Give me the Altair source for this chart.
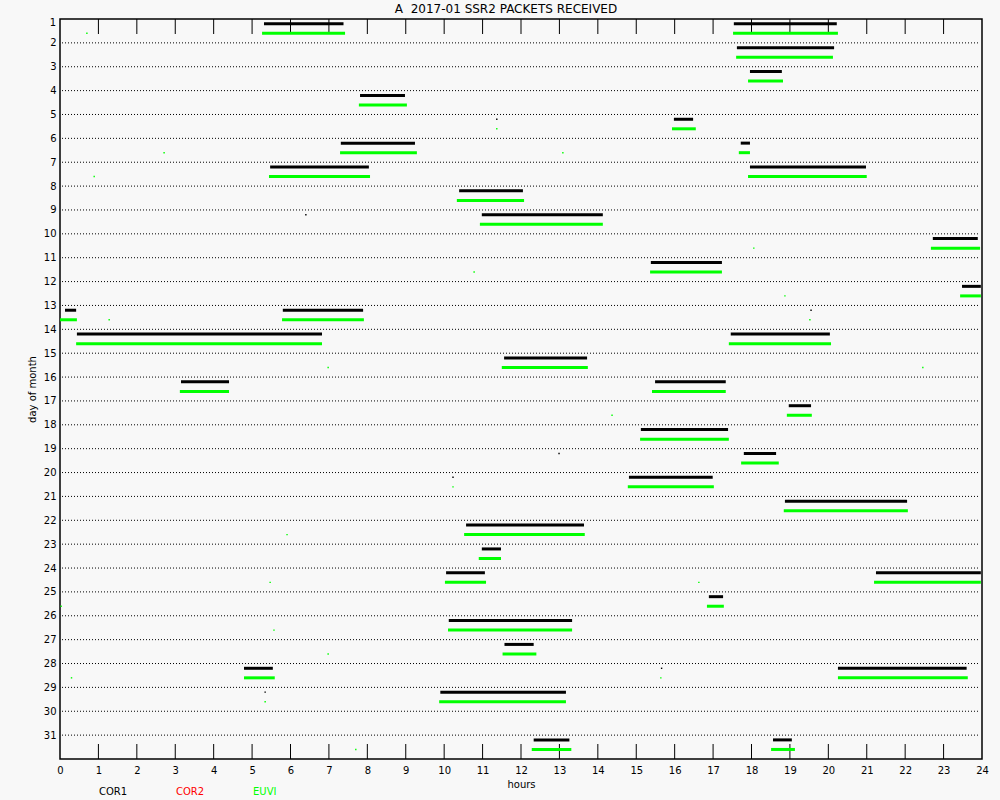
import altair as alt
import pandas as pd

# Packet reception windows per instrument: day of month, start hour, end hour
cor1_day = [1, 1, 2, 3, 4, 5, 6, 6, 7, 7, 8, 9, 10, 11, 12, 13, 13, 14, 14, 15,
            16, 16, 17, 18, 19, 20, 21, 22, 23, 24, 24, 25, 26, 27, 28, 28, 29, 31, 31]
cor1_start = [5.31, 17.54, 17.62, 17.96, 7.81, 15.98, 7.31, 17.72, 5.47, 17.96,
              10.39, 10.98, 22.72, 15.38, 23.48, 0.13, 5.80, 0.44, 17.46, 11.56,
              3.15, 15.49, 18.97, 15.12, 17.80, 14.81, 18.87, 10.57, 10.98, 10.05,
              21.24, 16.89, 10.12, 11.57, 4.79, 20.25, 9.90, 12.33, 18.56]
cor1_end = [7.38, 20.22, 20.15, 18.79, 8.98, 16.48, 9.24, 17.96, 8.04, 20.98,
            12.05, 14.13, 23.89, 17.23, 23.97, 0.42, 7.89, 6.82, 20.04, 13.72,
            4.40, 17.33, 19.55, 17.39, 18.64, 16.99, 22.05, 13.64, 11.48, 11.06,
            23.97, 17.26, 13.33, 12.33, 5.54, 23.60, 13.17, 13.26, 19.05]

euvi_day = cor1_day
euvi_start = [5.26, 17.52, 17.60, 17.91, 7.78, 15.93, 7.29, 17.67, 5.44, 17.91,
              10.33, 10.93, 22.67, 15.36, 23.43, 0.00, 5.78, 0.42, 17.41, 11.50,
              3.12, 15.41, 18.92, 15.10, 17.73, 14.78, 18.84, 10.52, 10.90, 10.02,
              21.19, 16.84, 10.10, 11.52, 4.79, 20.25, 9.87, 12.28, 18.51]
euvi_end = [7.42, 20.25, 20.12, 18.82, 9.03, 16.55, 9.29, 17.96, 8.07, 21.00,
            12.08, 14.13, 23.95, 17.23, 23.97, 0.44, 7.91, 6.82, 20.07, 13.74,
            4.40, 17.33, 19.57, 17.41, 18.71, 17.02, 22.07, 13.66, 11.48, 11.09,
            23.97, 17.28, 13.33, 12.40, 5.59, 23.63, 13.17, 13.31, 19.13]

# Isolated single packets
dot_day = [1, 6, 7, 5, 6, 11, 13, 10, 12, 13, 15, 15, 17, 20, 22, 24, 25, 26,
           24, 27, 28, 29, 28, 31,
           5, 9, 13, 20, 19, 29, 28]
dot_hour = [0.70, 2.71, 0.89, 11.37, 13.09, 10.78, 1.28, 18.06, 18.87, 19.52,
            6.98, 22.46, 14.37, 10.23, 5.91, 5.47, 0.03, 5.57, 16.63, 6.98,
            0.30, 5.34, 15.64, 7.70,
            11.37, 6.40, 19.55, 10.23, 12.99, 5.34, 15.66]
dot_inst = ["EUVI"] * 24 + ["COR1"] * 7

instruments = ["COR1", "COR2", "EUVI"]
inst_colors = ["#000000", "#ff0000", "#00ff00"]
lane_offset = {"COR1": 0.2, "COR2": 0.4, "EUVI": 0.6}

hour_ticks = list(range(0, 25))
day_labels = list(range(1, 32))
title_text = "A\u00a0\u00a02017-01 SSR2 PACKETS RECEIVED"

segs = pd.concat([
    pd.DataFrame({"day": cor1_day, "start": cor1_start, "end": cor1_end, "inst": "COR1"}),
    pd.DataFrame({"day": euvi_day, "start": euvi_start, "end": euvi_end, "inst": "EUVI"}),
], ignore_index=True)
segs["row"] = segs["day"] + segs["inst"].map(lane_offset)

dots = pd.DataFrame({"day": dot_day, "hour": dot_hour, "inst": dot_inst})
dots["row"] = dots["day"] + dots["inst"].map(lane_offset)

FONT = "DejaVu Sans"
W, H = 922, 740

xscale = alt.Scale(domain=[0, 24], nice=False, zero=False)
yscale = alt.Scale(domain=[1, 32], reverse=True, nice=False, zero=False)
cscale = alt.Scale(domain=instruments, range=inst_colors)

x_axis = alt.Axis(values=hour_ticks, ticks=False, domain=False, grid=False,
                  labelPadding=6, labelFontSize=10, labelFont=FONT, labelColor="black",
                  labelOverlap=False, labelFlush=False,
                  title="hours", titleFont=FONT, titleFontSize=10, titleFontWeight="normal",
                  titleColor="black", titlePadding=4)
y_axis = alt.Axis(values=day_labels[1:], ticks=False, domain=False, grid=False,
                  labelPadding=4, labelFontSize=10, labelFont=FONT, labelColor="black",
                  labelOverlap=False,
                  title="day of month", titleFont=FONT, titleFontSize=10,
                  titleFontWeight="normal", titleColor="black", titlePadding=6)


def X(field):
    return alt.X(field, scale=xscale, axis=x_axis)


def Y(field):
    return alt.Y(field, scale=yscale, axis=y_axis)


# Dotted day separators
grid = alt.Chart(pd.DataFrame({"day": day_labels[1:]})).mark_rule(
    color="black", strokeWidth=1, strokeDash=[1, 2]
).encode(
    y=Y("day:Q"),
    x=alt.value(2), x2=alt.value(W - 2),
)

# Hour ticks drawn inward on top and bottom frame edges
hours_df = pd.DataFrame({"hour": hour_ticks[1:-1]})
top_ticks = alt.Chart(hours_df).mark_rule(color="black", strokeWidth=1).encode(
    x=X("hour:Q"),
    y=alt.value(0), y2=alt.value(15),
)
bottom_ticks = alt.Chart(hours_df).mark_rule(color="black", strokeWidth=1).encode(
    x=X("hour:Q"),
    y=alt.value(H - 15), y2=alt.value(H),
)

bars = alt.Chart(segs).mark_rule(strokeCap="butt").encode(
    x=X("start:Q"),
    x2="end:Q",
    y=Y("row:Q"),
    color=alt.Color("inst:N", scale=cscale, legend=None),
    strokeWidth=alt.StrokeWidth("inst:N", scale=alt.Scale(domain=instruments, range=[3, 3, 3.5]),
                                legend=None),
)

points = alt.Chart(dots).mark_square(size=2, opacity=1, filled=True).encode(
    x=X("hour:Q"),
    y=Y("row:Q"),
    color=alt.Color("inst:N", scale=cscale, legend=None),
)

first_day = alt.Chart(pd.DataFrame({"day": [day_labels[0]]})).mark_text(
    align="right", baseline="middle", dy=4, font=FONT, fontSize=10, color="black"
).encode(
    y=Y("day:Q"),
    x=alt.value(-4),
    text=alt.Text("day:Q"),
)

title = alt.Chart(pd.DataFrame({"t": [title_text]})).mark_text(
    align="center", baseline="alphabetic", font=FONT, fontSize=12, color="black"
).encode(x=alt.value(446), y=alt.value(-6), text="t:N")

legend_layers = []
for i, (name, col) in enumerate(zip(instruments, inst_colors)):
    legend_layers.append(
        alt.Chart(pd.DataFrame({"label": [name]})).mark_text(
            align="left", baseline="middle", font=FONT, fontSize=10, color=col
        ).encode(x=alt.value(39 + 77 * i), y=alt.value(H + 33), text="label:N")
    )

chart = alt.layer(grid, top_ticks, bottom_ticks, bars, points, first_day, title,
                  *legend_layers).properties(
    width=W, height=H,
    background="#f8f8f8",
    padding={"left": 60, "top": 19, "right": 18, "bottom": 41},
    autosize=alt.AutoSizeParams(type="none"),
).configure_view(stroke="black", strokeWidth=1.5, clip=False).configure_axis(labelOverlap=False)

chart.save("out.html", embed_options={"renderer": "svg", "actions": False})
